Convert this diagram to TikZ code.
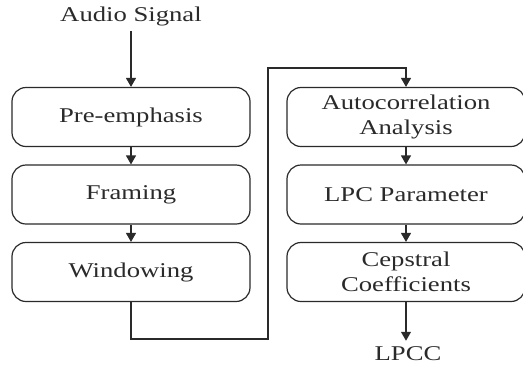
\documentclass[tikz,border=0pt]{standalone}
\usepackage{fontspec}
\setmainfont[FakeStretch=1.27]{Liberation Serif}
\usetikzlibrary{arrows.meta}
\definecolor{ink}{HTML}{2A2A2A}
\begin{document}
\begin{tikzpicture}[x=1pt,y=-1pt,
  box/.style={draw=ink, rounded corners=14pt, minimum width=238pt, minimum height=59pt,
    line width=1.2pt, align=center, text=ink, font=\fontsize{21}{25}\selectfont, inner sep=0pt},
  lbl/.style={text=ink, font=\fontsize{21}{25}\selectfont, inner sep=0pt},
  arr/.style={draw=ink, -{Triangle[length=9pt,width=10pt]}, line width=1.3pt}]
\useasboundingbox (0,0) rectangle (523,368);
\node[lbl] (audio) at (131,16) {Audio Signal};
\node[box] (pre) at (131,117) {Pre-emphasis};
\node[box] (fra) at (131,194.5) {Framing};
\node[box] (win) at (131,272) {Windowing};
\node[box] (auto) at (406,117) {Autocorrelation\\Analysis};
\node[box] (lpc) at (406,194.5) {LPC Parameter};
\node[box] (cep) at (406,272) {Cepstral\\Coefficients};
\node[lbl] (lpcc) at (408,354) {LPCC};
\coordinate (c1) at (131,339);
\coordinate (c2) at (268,339);
\coordinate (c3) at (268,68);
\coordinate (c4) at (406,68);
\draw[arr] (audio.south) ++(0,5) -- (pre.north);
\draw[arr] (pre) -- (fra);
\draw[arr] (fra) -- (win);
\draw[arr] (win.south) -- (c1) -- (c2) -- (c3) -- (c4) -- (auto.north);
\draw[arr] (auto) -- (lpc);
\draw[arr] (lpc) -- (cep);
\draw[arr] (cep.south) -- ([yshift=6pt]cep.south |- lpcc.north);
\end{tikzpicture}
\end{document}
